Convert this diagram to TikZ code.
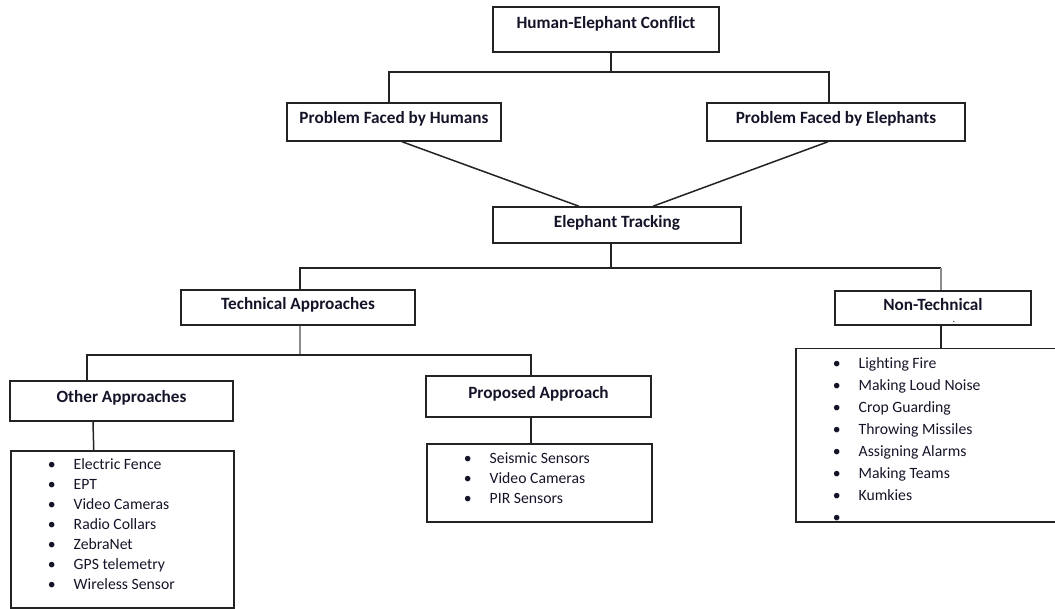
\documentclass[tikz,border=0pt]{standalone}
\usepackage{fontspec}
\setmainfont[Ligatures=NoCommon]{Carlito}
\usetikzlibrary{calc}
\definecolor{linec}{RGB}{35,35,35}
\definecolor{lineg}{RGB}{140,140,140}
\definecolor{textc}{RGB}{20,20,40}
\newcommand{\itemlist}[5]{\parbox[t][#2][t]{#1}{\fontsize{15.7}{#4}\selectfont\raggedright
\rule{0pt}{#3}\ignorespaces#5}}
\newcommand{\bitem}[1]{\hspace*{37pt}\makebox[26pt][l]{•}#1\par}
\begin{document}
\begin{tikzpicture}[x=1pt,y=-1pt,
  hbox/.style={draw=linec, line width=1.5pt, inner sep=0pt, text=textc,
    font=\bfseries\fontsize{17.2}{19}\selectfont},
  lbox/.style={draw=linec, line width=1.5pt, inner sep=0pt, text=textc, anchor=north west},
  conn/.style={draw=linec, line width=1.5pt},
  conng/.style={draw=lineg, line width=1.5pt}]
\useasboundingbox (0,0) rectangle (1055,609);
\clip (0,0) rectangle (1055,609);
% boxes
\node[hbox, minimum width=226pt, minimum height=45pt, text height=21.5pt, text depth=23.5pt] (hec) at (606,29.5) {Human-Elephant Conflict};
\node[hbox, minimum width=214pt, minimum height=38pt, text height=21pt, text depth=17pt] (pfh) at (394,122) {Problem Faced by Humans};
\node[hbox, minimum width=258pt, minimum height=38pt, text height=20.5pt, text depth=17.5pt] (pfe) at (836,122) {Problem Faced by Elephants};
\node[hbox, minimum width=248pt, minimum height=36pt, text height=20.5pt, text depth=15.5pt] (et) at (617,225) {Elephant Tracking};
\node[hbox, minimum width=234pt, minimum height=35pt, text height=19.5pt, text depth=15.5pt] (ta) at (298,307.5) {Technical Approaches};
\node[hbox, minimum width=196pt, minimum height=34pt, text height=19.5pt, text depth=14.5pt] (nt) at (933,308) {Non-Technical\makebox[0pt][l]{\hspace*{-30pt}\raisebox{-12pt}{\mdseries\fontsize{10}{10}\selectfont.}}};
\node[hbox, minimum width=223pt, minimum height=40pt, text height=21.5pt, text depth=18.5pt] (oa) at (121.5,401) {Other Approaches};
\node[hbox, minimum width=225pt, minimum height=41pt, text height=22.5pt, text depth=18.5pt] (pa) at (538.5,396.5) {Proposed Approach};
% lists
\node[lbox] (oal) at (10,450) {\itemlist{223pt}{157pt}{19pt}{20pt}{%
\bitem{Electric Fence}\bitem{EPT}\bitem{Video Cameras}\bitem{Radio Collars}\bitem{ZebraNet}\bitem{GPS telemetry}\bitem{Wireless Sensor}}};
\node[lbox] (pal) at (426,443) {\itemlist{225pt}{78pt}{20pt}{20pt}{%
\bitem{Seismic Sensors}\bitem{Video Cameras}\bitem{PIR Sensors}}};
\node[lbox] (ntl) at (795,348) {\itemlist{266pt}{173pt}{20pt}{22pt}{%
\bitem{Lighting Fire}\bitem{Making Loud Noise}\bitem{Crop Guarding}\bitem{Throwing Missiles}\bitem{Assigning Alarms}\bitem{Making Teams}\bitem{Kumkies}\bitem{}}};
% junction coordinates
\coordinate (j1) at (611,72);
\coordinate (j1l) at (389,72);
\coordinate (j1r) at (829,72);
\coordinate (j2) at (611,268);
\coordinate (j2l) at (300,268);
\coordinate (j2r) at (941,268);
\coordinate (j3) at (300,355);
\coordinate (j3l) at (87,355);
\coordinate (j3r) at (531,355);
% connectors
\draw[conn] (hec.south -| j1) -- (j1);
\draw[conn] (pfh.north -| j1l) -- (j1l) -- (j1r) -- (pfe.north -| j1r);
\draw[conn] ($(pfh.south)+(8,0)$) -- ($(et.north)+(-38,0)$);
\draw[conn] ($(pfe.south)+(-8,0)$) -- ($(et.north)+(36,0)$);
\draw[conn] (et.south -| j2) -- (j2);
\draw[conn] (ta.north -| j2l) -- (j2l) -- (j2r);
\draw[conng] (j2r) -- (nt.north -| j2r);
\draw[conng] (ta.south -| j3) -- (j3);
\draw[conn] (oa.north -| j3l) -- (j3l) -- (j3r) -- (pa.north -| j3r);
\draw[conn] ($(oa.south)+(-28.5,0)$) -- ($(oal.north)+(-28.5,0)$);
\draw[conn] (pa.south -| j3r) -- (pal.north -| j3r);
\draw[conn] (nt.south -| j2r) -- (ntl.north -| j2r);
\end{tikzpicture}
\end{document}
